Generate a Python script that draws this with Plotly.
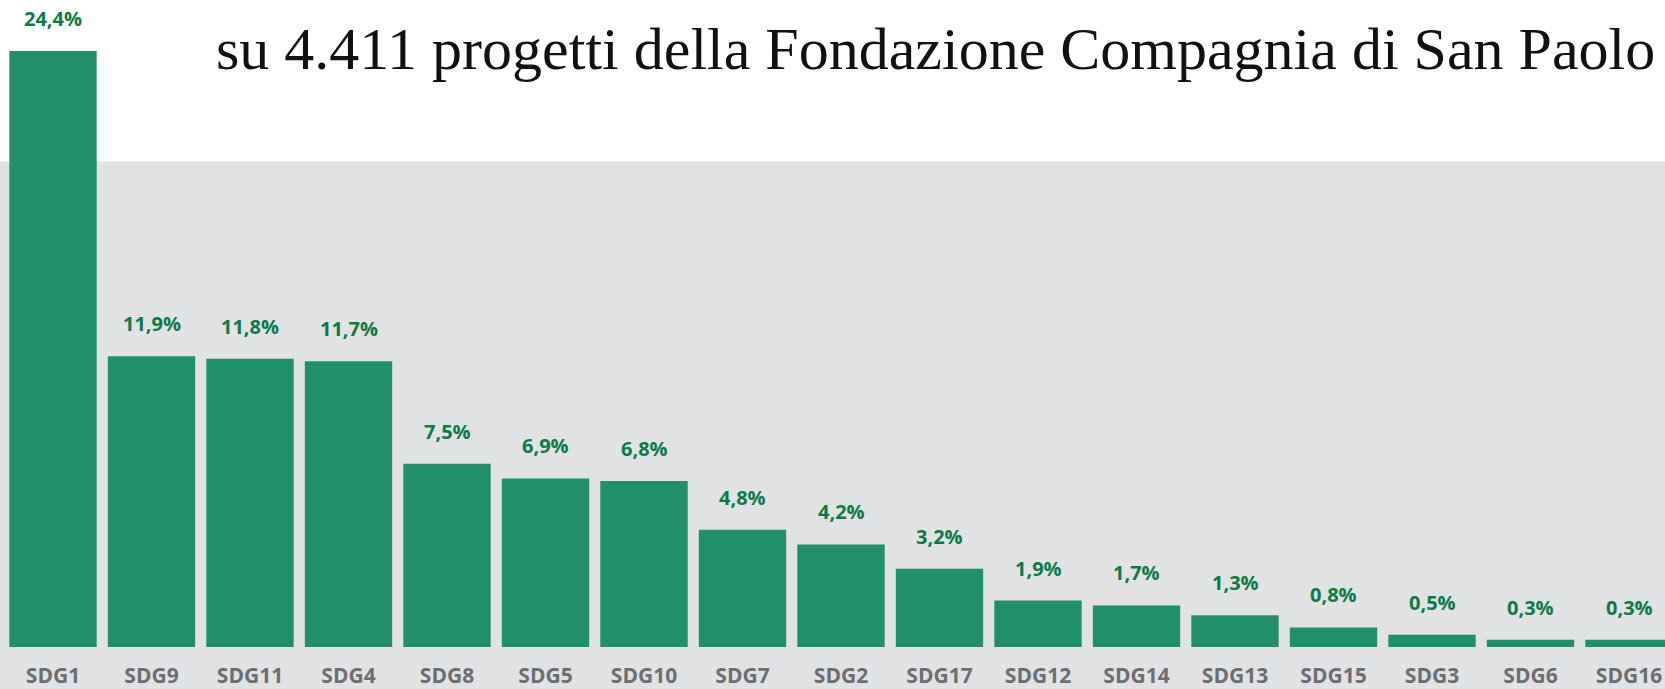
import plotly.graph_objects as go

categories = ["SDG1", "SDG9", "SDG11", "SDG4", "SDG8", "SDG5", "SDG10", "SDG7", "SDG2",
              "SDG17", "SDG12", "SDG14", "SDG13", "SDG15", "SDG3", "SDG6", "SDG16"]
values = [24.4, 11.9, 11.8, 11.7, 7.5, 6.9, 6.8, 4.8, 4.2, 3.2, 1.9, 1.7, 1.3, 0.8, 0.5, 0.3, 0.3]
value_labels = [f"{v:.1f}".replace(".", ",") + "%" for v in values]
title_text = "su 4.411 progetti della Fondazione Compagnia di San Paolo"

BAR = "#218f6a"
LABEL = "#0b7a46"
GRAY_BG = "#e1e2e4"
TICK = "#6d6e71"

W, H = 1665, 689
MB = 40
plot_h = H - MB

fig = go.Figure()
fig.add_trace(go.Bar(x=categories, y=values, marker=dict(color=BAR, line=dict(width=0)),
                     hoverinfo="x+y"))

for c, v, t in zip(categories, values, value_labels):
    fig.add_annotation(x=c, y=v, xref="x", yref="y", text=t, showarrow=False,
                       yanchor="bottom", yshift=17,
                       font=dict(family="Open Sans", size=20, color=LABEL, weight="bold"))

fig.add_annotation(xref="paper", yref="paper", x=1657 / W, y=(plot_h - 49) / plot_h,
                   xanchor="right", yanchor="middle", showarrow=False, text=title_text,
                   font=dict(family="Liberation Serif", size=60, color="#111111"))

fig.add_shape(type="rect", xref="paper", yref="paper", x0=-0.01, x1=1.01,
              y0=-0.1, y1=(plot_h - 162) / plot_h, fillcolor=GRAY_BG,
              line=dict(width=0), layer="below")

pitch = 98.5
x0 = -53 / pitch
fig.update_layout(
    width=W, height=H,
    margin=dict(l=0, r=0, t=0, b=MB),
    paper_bgcolor="white", plot_bgcolor="rgba(0,0,0,0)",
    bargap=0.113, showlegend=False,
    xaxis=dict(type="category", range=[x0, x0 + W / pitch], showgrid=False, zeroline=False,
               showline=False, ticks="", ticklabelstandoff=14,
               tickfont=dict(family="Open Sans", size=21, color=TICK, weight="bold")),
    yaxis=dict(range=[0, plot_h / 24.5], visible=False, showgrid=False, zeroline=False),
)

fig.write_html("out.html", config={"displayModeBar": False},
               post_script="document.body.style.margin='0';document.body.style.overflow='hidden';")
